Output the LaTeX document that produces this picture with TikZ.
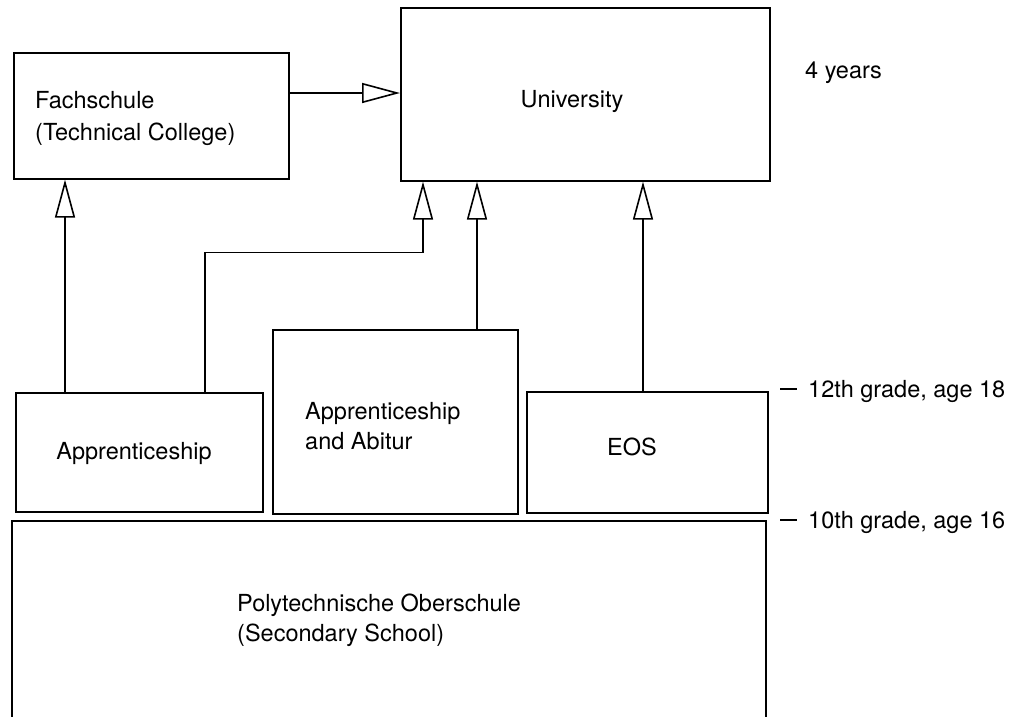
\documentclass[tikz,border=0pt]{standalone}
\usepackage{fontspec}
\setmainfont{TeX Gyre Heros}
\usetikzlibrary{arrows.meta}
\begin{document}
\begin{tikzpicture}[x=1pt,y=-1pt,
  boxst/.style={draw,line width=1.6pt,inner sep=0pt,anchor=north west},
  arr/.style={line width=1.6pt,-{Triangle[open,length=38pt,width=20pt,line width=1.6pt]}},
  lbl/.style={inner sep=0pt,font=\fontsize{23.5}{31}\selectfont},
  tick/.style={line width=1.4pt}]
\useasboundingbox (0,0) rectangle (1013,716);
% boxes
\node[boxst,minimum width=275pt,minimum height=126pt] (fach) at (13,52) {};
\node[boxst,minimum width=369pt,minimum height=173pt] (uni) at (400,7) {};
\node[boxst,minimum width=247pt,minimum height=119pt] (appr) at (15,392) {};
\node[boxst,minimum width=245pt,minimum height=184pt] (abi) at (272,329) {};
\node[boxst,minimum width=241pt,minimum height=121pt] (eos) at (526,391) {};
\draw[line width=1.6pt] (12,717) |- (766,521) -- (766,717);
\coordinate (polytl) at (12,521);
% texts
\node[lbl,anchor=base west] (t1) at (35,108) {Fachschule};
\node[lbl,anchor=base west] (t2) at (35,140) {(Technical College)};
\node[lbl,anchor=base] (t3) at (572,107) {University};
\node[lbl,anchor=base] (t4) at (134,459) {Apprenticeship};
\node[lbl,anchor=base west] (t5) at (305,419) {Apprenticeship};
\node[lbl,anchor=base west] (t6) at (305,449) {and Abitur};
\node[lbl,anchor=base] (t7) at (632,455) {EOS};
\node[lbl,anchor=base west] (t8) at (237,611) {Polytechnische Oberschule};
\node[lbl,anchor=base west] (t9) at (237,641) {(Secondary School)};
\node[lbl,anchor=base west] (t10) at (805,78) {4 years};
\node[lbl,anchor=base west] (g12) at (808,397) {12th grade, age 18};
\node[lbl,anchor=base west] (g10) at (808,528) {10th grade, age 16};
\draw[tick] ([xshift=-28pt,yshift=8pt]g12.base west) -- ++(17,0);
\draw[tick] ([xshift=-28pt,yshift=8pt]g10.base west) -- ++(17,0);
% connectors
\draw[arr] (fach.east |- 0,93) -- (uni.west |- 0,93);
\draw[arr] ([xshift=50pt]appr.north west) -- ([xshift=50pt]appr.north west |- fach.south);
\draw[arr] ([xshift=190pt]appr.north west) |- ([xshift=23pt,yshift=-71pt]uni.south west) -- ([xshift=23pt]uni.south west);
\draw[arr] ([xshift=205pt]abi.north west) -- ([xshift=205pt]abi.north west |- uni.south);
\draw[arr] ([xshift=117pt]eos.north west) -- ([xshift=117pt]eos.north west |- uni.south);
\end{tikzpicture}
\end{document}
